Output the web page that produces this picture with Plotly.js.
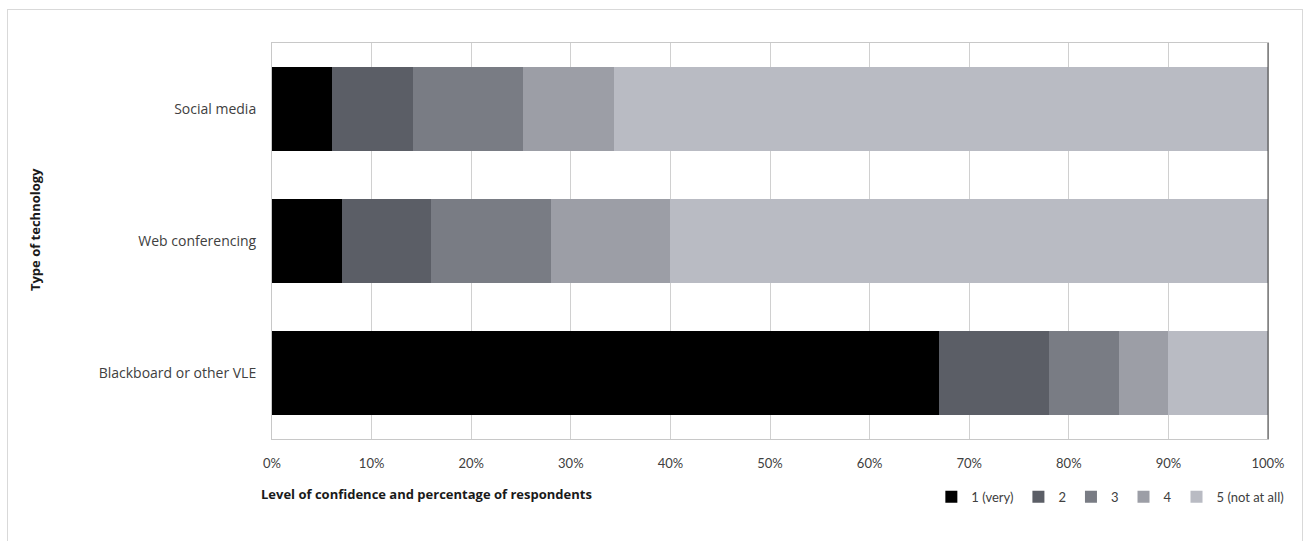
<!DOCTYPE html>
<html>
<head>
<meta charset="utf-8">
<script src="https://cdn.plot.ly/plotly-3.0.1.min.js"></script>
<style>
  html, body { margin: 0; padding: 0; background: #ffffff; }
  #wrap { position: relative; width: 1313px; height: 541px; overflow: hidden; }
  #frame { position: absolute; left: 7px; top: 9px; width: 1296px; height: 560px; border: 1px solid #d9d9d9; box-sizing: border-box; pointer-events: none; }
  #chart { position: absolute; left: 0; top: 0; width: 1313px; height: 541px; }
</style>
</head>
<body>
<div id="wrap">
  <div id="chart"></div>
  <div id="frame"></div>
</div>
<script>
const categories = ['Blackboard or other VLE', 'Web conferencing', 'Social media'];
const seriesNames = ['1 (very)', '2', '3', '4', '5 (not at all)'];
const level1 = [67, 7, 6];
const level2 = [11, 9, 8.2];
const level3 = [7, 12, 11];
const level4 = [5, 12, 9.1];
const level5 = [10, 60, 65.7];
const tickVals = [0, 10, 20, 30, 40, 50, 60, 70, 80, 90, 100];
const tickLabels = ['0%', '10%', '20%', '30%', '40%', '50%', '60%', '70%', '80%', '90%', '100%'];
const colors = ['#000000', '#5b5e66', '#797c84', '#9c9ea6', '#b9bbc3'];

const values = [level1, level2, level3, level4, level5];
const traces = values.map((v, i) => ({
  type: 'bar',
  orientation: 'h',
  name: seriesNames[i],
  y: categories,
  x: v,
  marker: { color: colors[i], line: { width: 0 } },
  hoverinfo: 'x+y+name'
}));

const layout = {
  width: 1313,
  height: 541,
  paper_bgcolor: '#ffffff',
  plot_bgcolor: '#ffffff',
  barmode: 'stack',
  bargap: 0.36,
  margin: { l: 272, r: 45, t: 43, b: 102, pad: 0, autoexpand: false },
  font: { family: 'Lato, "Open Sans", sans-serif', size: 13, color: '#404040' },
  showlegend: true,
  legend: {
    orientation: 'h',
    x: 0.662, xanchor: 'left',
    y: -0.146, yanchor: 'middle',
    traceorder: 'normal',
    font: { family: 'Lato, sans-serif', size: 13, color: '#404040' },
    itemwidth: 30,
    bgcolor: 'rgba(0,0,0,0)'
  },
  xaxis: {
    range: [0, 100],
    tickvals: tickVals,
    ticktext: tickLabels,
    showgrid: true,
    gridcolor: '#d0d0d0',
    gridwidth: 1,
    zeroline: false,
    showline: true,
    linecolor: '#c8c8c8',
    linewidth: 1,
    mirror: true,
    ticks: 'outside',
    ticklen: 12,
    tickcolor: 'rgba(0,0,0,0)',
    tickfont: { family: 'Lato, sans-serif', size: 13, color: '#404040' },
    automargin: false,
    fixedrange: true
  },
  yaxis: {
    showgrid: false,
    zeroline: false,
    showline: true,
    linecolor: '#c8c8c8',
    linewidth: 1,
    mirror: true,
    ticks: 'outside',
    ticklen: 12,
    tickcolor: 'rgba(0,0,0,0)',
    tickfont: { family: '"Open Sans", sans-serif', size: 14, color: '#404040' },
    automargin: false,
    fixedrange: true
  },
  shapes: [
    { type: 'line', xref: 'x domain', yref: 'y domain', x0: 1, x1: 1, y0: 0, y1: 1,
      line: { color: '#404040', width: 1 } }
  ],
  annotations: [
    { text: '<b>Level of confidence and percentage of respondents</b>',
      xref: 'paper', yref: 'paper', x: -0.013, y: -0.14, xanchor: 'left', yanchor: 'middle',
      showarrow: false, font: { family: '"Open Sans", sans-serif', size: 13, color: '#1a1a1a' } },
    { text: '<b>Type of technology</b>',
      xref: 'paper', yref: 'paper', x: -0.238, y: 0.53, xanchor: 'center', yanchor: 'middle',
      textangle: -90, showarrow: false, font: { family: '"Open Sans", sans-serif', size: 13, color: '#1a1a1a' } }
  ]
};

Plotly.newPlot('chart', traces, layout, { displayModeBar: false });
</script>
</body>
</html>
